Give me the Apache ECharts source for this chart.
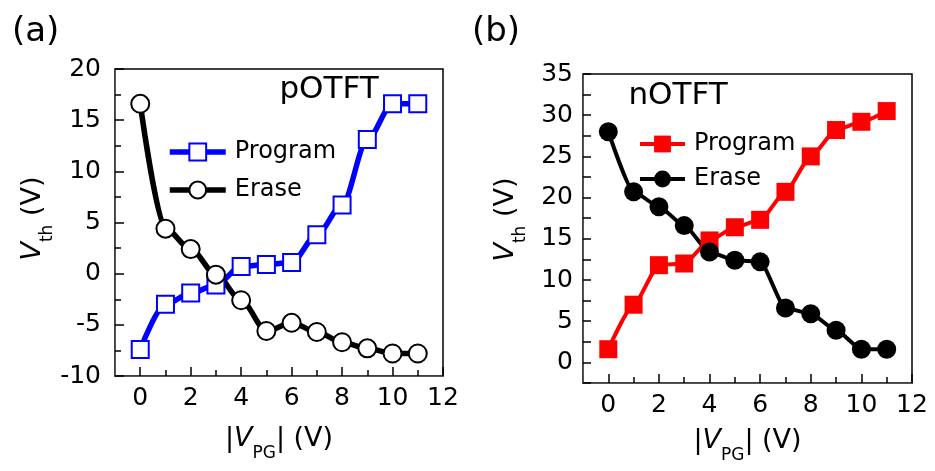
<!DOCTYPE html>
<html><head><meta charset="utf-8">
<script src="https://cdn.jsdelivr.net/npm/echarts@6/dist/echarts.min.js"></script>
<style>html,body{margin:0;padding:0;background:#fff}#c{width:935px;height:471px}</style>
</head><body><div id="c"></div>
<script>
const vpg = [0,1,2,3,4,5,6,7,8,9,10,11];
const pProgram = [-7.4,-3.0,-1.9,-1.1,0.7,0.9,1.1,3.8,6.7,13.1,16.6,16.6];
const pErase = [16.6,4.4,2.4,-0.1,-2.6,-5.6,-4.8,-5.7,-6.7,-7.3,-7.8,-7.8];
const nProgram = [1.6,7.0,11.8,12.0,14.8,16.4,17.3,20.7,25.0,28.2,29.2,30.5];
const nErase = [28.0,20.7,18.9,16.6,13.4,12.4,12.2,6.6,5.9,3.9,1.6,1.6];
const xMajorTicks = [0,2,4,6,8,10,12];
const xMinorTicks = [1,3,5,7,9,11];
const yMajorTicksB = [0,5,10,15,20,25,30,35];
const seriesNames = ['Program','Erase'];
const panelLabels = ['(a)','(b)'];
const deviceLabels = ['pOTFT','nOTFT'];

const F = 'DejaVu Sans';
const LBL = 25;

function rich(){
  return {
    n:{fontSize:27, fontFamily:F, color:'#000', lineHeight:27, verticalAlign:'top'},
    i:{fontSize:27, fontFamily:F, color:'#000', fontStyle:'italic', lineHeight:27, verticalAlign:'top'},
    s:{fontSize:17, fontFamily:F, color:'#000', padding:[20,0,0,0], verticalAlign:'bottom'}
  };
}
const xName = '{n|\u007c}{i|V}{s|PG}{n|\u007c (V)}';
const yName = '{i|V}{s|th}{n| (V)}';

function xMain(g, gap){
  return {type:'value', gridIndex:g, min:-1, max:12, position:'bottom',
    axisLine:{show:true, onZero:false}, splitLine:{show:false},
    axisTick:{show:true, inside:true, length:9, customValues:xMajorTicks, lineStyle:{color:'#000', width:1.5}},
    axisLabel:{customValues:xMajorTicks, fontSize:LBL, fontFamily:F, color:'#000', padding:[2,0,0,0]},
    name:xName, nameLocation:'middle', nameGap:gap, nameTextStyle:{rich:rich()}};
}
function xMinor(g){
  return {type:'value', gridIndex:g, min:-1, max:12, position:'bottom',
    axisLine:{show:true, onZero:false}, splitLine:{show:false}, axisLabel:{show:false},
    axisTick:{show:true, inside:true, length:6, customValues:xMinorTicks, lineStyle:{color:'#000', width:1.5}}};
}
const option = {
  animation:false,
  grid:[
    {left:115, top:69, width:328, height:307, show:true, borderColor:'#000', borderWidth:1.5},
    {left:583, top:74, width:329, height:309, show:true, borderColor:'#000', borderWidth:1.5}
  ],
  xAxis:[xMain(0,49), xMinor(0), xMain(1,44), xMinor(1)],
  yAxis:[
    {type:'value', gridIndex:0, min:-10, max:20, interval:5,
     axisLine:{show:true, onZero:false}, splitLine:{show:false},
     axisTick:{show:true, inside:true, length:9, lineStyle:{color:'#000', width:1.5}},
     minorTick:{show:true, splitNumber:2, length:6, lineStyle:{color:'#000', width:1.5}},
     axisLabel:{fontSize:LBL, fontFamily:F, color:'#000', padding:[0,6,0,0]},
     name:yName, nameLocation:'middle', nameGap:54, nameRotate:90,
     nameTextStyle:{rich:rich(), padding:[0,0,0,8]}},
    {type:'value', gridIndex:1, min:-2.5, max:35, interval:2.5,
     axisLine:{show:true, onZero:false}, splitLine:{show:false},
     axisTick:{show:true, inside:true, length:8, lineStyle:{color:'#000', width:1.5}},
     axisLabel:{fontSize:LBL, fontFamily:F, color:'#000', padding:[0,2,0,0],
       formatter:v => yMajorTicksB.includes(v) ? String(v) : ''},
     name:yName, nameLocation:'middle', nameGap:54, nameRotate:90,
     nameTextStyle:{rich:rich(), padding:[0,0,0,18]}}
  ],
  legend:[
    {left:167, top:140, padding:0, orient:'vertical', itemWidth:56, itemHeight:21, itemGap:14, selectedMode:false,
     data:[seriesNames[0]+' a', seriesNames[1]+' a'], formatter:n=>n.split(' ')[0],
     lineStyle:{width:5.5}, itemStyle:{borderWidth:2},
     textStyle:{fontSize:24, fontFamily:F, color:'#000', padding:[0,0,0,4]}},
    {left:638, top:132, padding:0, orient:'vertical', itemWidth:45, itemHeight:21, itemGap:11, selectedMode:false,
     data:[seriesNames[0]+' b', seriesNames[1]+' b'], formatter:n=>n.split(' ')[0],
     lineStyle:{width:4},
     textStyle:{fontSize:24, fontFamily:F, color:'#000', padding:[0,0,0,4]}}
  ],
  graphic:[
    {type:'text', left:12, top:15, style:{text:panelLabels[0], font:'34px "DejaVu Sans"', fill:'#000'}},
    {type:'text', left:472, top:15, style:{text:panelLabels[1], font:'34px "DejaVu Sans"', fill:'#000'}},
    {type:'text', x:329, y:90, style:{text:deviceLabels[0], font:'31px "DejaVu Sans"', fill:'#000', textAlign:'center', textVerticalAlign:'middle'}},
    {type:'text', x:678, y:96, style:{text:deviceLabels[1], font:'31px "DejaVu Sans"', fill:'#000', textAlign:'center', textVerticalAlign:'middle'}}
  ],
  series:[
    {type:'line', name:seriesNames[0]+' a', xAxisIndex:0, yAxisIndex:0, data:vpg.map((x,i)=>[x,pProgram[i]]),
     symbol:'rect', symbolSize:17, smooth:0.3, smoothMonotone:'x',
     lineStyle:{color:'#0000ff', width:5.5}, itemStyle:{color:'#fff', borderColor:'#0000ff', borderWidth:2}},
    {type:'line', name:seriesNames[1]+' a', xAxisIndex:0, yAxisIndex:0, data:vpg.map((x,i)=>[x,pErase[i]]),
     symbol:'circle', symbolSize:18, smooth:0.3, smoothMonotone:'x',
     lineStyle:{color:'#000', width:5.5}, itemStyle:{color:'#fff', borderColor:'#000', borderWidth:2}},
    {type:'line', name:seriesNames[0]+' b', xAxisIndex:2, yAxisIndex:1, data:vpg.map((x,i)=>[x,nProgram[i]]),
     symbol:'rect', symbolSize:18, smooth:0.2, smoothMonotone:'x',
     lineStyle:{color:'#ff0000', width:4}, itemStyle:{color:'#ff0000'}},
    {type:'line', name:seriesNames[1]+' b', xAxisIndex:2, yAxisIndex:1, data:vpg.map((x,i)=>[x,nErase[i]]),
     symbol:'circle', symbolSize:19, smooth:0.2, smoothMonotone:'x',
     lineStyle:{color:'#000', width:4}, itemStyle:{color:'#000'}}
  ]
};
const chart = echarts.init(document.getElementById('c'), null, {renderer:'canvas'});
chart.setOption(option);
</script></body></html>
